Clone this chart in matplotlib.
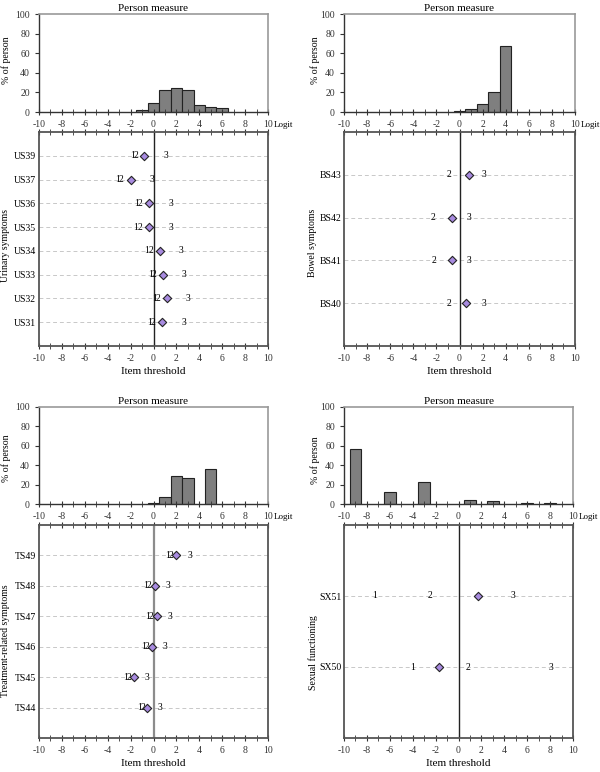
import matplotlib
matplotlib.use('Agg')
import matplotlib.pyplot as plt
from matplotlib.ticker import MultipleLocator

plt.rcParams['font.family'] = ['Liberation Serif', 'DejaVu Serif']
plt.rcParams['axes.unicode_minus'] = False

# person measure histograms (logit bin centre, % of person)
us_bins = [-1, 0, 1, 2, 3, 4, 5, 6]
us_pct = [2, 9, 22, 25, 22, 7, 5, 4]
bs_bins = [0, 1, 2, 3, 4]
bs_pct = [1, 3, 8, 20, 67]
ts_bins = [0, 1, 2, 3, 5]
ts_pct = [1.5, 7, 29, 27, 36]
sx_bins = [-9, -6, -3, 1, 3, 6, 8]
sx_pct = [57, 12, 23, 4, 3, 1, 1]

# items: measure (diamond) and thresholds 1, 2, 3 (None = not shown)
us_items = ['US31', 'US32', 'US33', 'US34', 'US35', 'US36', 'US37', 'US39']
us_meas = [0.78, 1.22, 0.84, 0.55, -0.41, -0.41, -2.0, -0.81]
us_t1 = [-0.35, 0.06, -0.29, -0.58, -1.54, -1.51, -3.17, -1.86]
us_t2 = [-0.03, 0.38, 0.03, -0.26, -1.19, -1.16, -2.82, -1.54]
us_t3 = [2.62, 3.05, 2.70, 2.38, 1.48, 1.48, -0.17, 1.10]

bs_items = ['BS40', 'BS41', 'BS42', 'BS43']
bs_meas = [0.58, -0.64, -0.69, 0.81]
bs_t1 = [None, None, None, None]
bs_t2 = [-0.95, -2.23, -2.28, -0.87]
bs_t3 = [2.08, 0.84, 0.81, 2.14]

ts_items = ['TS44', 'TS45', 'TS46', 'TS47', 'TS48', 'TS49']
ts_meas = [-0.61, -1.72, -0.09, 0.29, 0.09, 2.0]
ts_t1 = [-1.25, -2.47, -0.84, -0.52, -0.67, 1.25]
ts_t2 = [-0.96, -2.15, -0.55, -0.20, -0.35, 1.54]
ts_t3 = [0.55, -0.58, 1.02, 1.42, 1.22, 3.14]

sx_items = ['SX50', 'SX51']
sx_meas = [-1.67, 1.70]
sx_t1 = [-4.02, -7.36]
sx_t2 = [0.83, -2.51]
sx_t3 = [8.11, 4.75]

W, H = 600, 772
fig = plt.figure(figsize=(W / 100, H / 100), dpi=100)


def px_axes(x0, y0, x1, y1):
    return fig.add_axes([x0 / W, 1 - y1 / H, (x1 - x0) / W, (y1 - y0) / H])


def px_label(x, y, s, size=7):
    fig.text(x / W, 1 - y / H, s, rotation=90, ha='center', va='center', fontsize=size)


def style_x(ax, top_ticks=False):
    ax.set_xlim(-10, 10)
    ax.xaxis.set_major_locator(MultipleLocator(2))
    ax.xaxis.set_minor_locator(MultipleLocator(1))
    ax.tick_params(axis='x', which='both', direction='inout', labelsize=7,
                   top=top_ticks, pad=3, colors='#333333')
    ax.tick_params(axis='x', which='major', length=5)
    ax.tick_params(axis='x', which='minor', length=4)


def draw_hist(ax, bins, pct):
    ax.bar(bins, pct, width=1, color='#7f7f7f', edgecolor='#222222', linewidth=0.8)
    style_x(ax)
    ax.set_ylim(0, 100)
    ax.yaxis.set_major_locator(MultipleLocator(20))
    ax.tick_params(axis='y', labelsize=7, length=3, direction='out', colors='#333333')
    for s in ['top', 'right']:
        ax.spines[s].set_color('#999999')
        ax.spines[s].set_linewidth(1.2)
    for s in ['left', 'bottom']:
        ax.spines[s].set_color('#333333')
        ax.spines[s].set_linewidth(1.0)
    ax.set_title('Person measure', fontsize=8, pad=2)
    ax.text(1.025, -0.13, 'Logit', transform=ax.transAxes, fontsize=6.5,
            ha='left', va='center')


def draw_items(ax, items, meas, t1, t2, t3, zero_col='#222222', zero_lw=1.0):
    n = len(items)
    ys = list(range(1, n + 1))
    for y in ys:
        ax.plot([-10, 10], [y, y], color='#c8c8c8', lw=0.7, ls=(0, (4, 3)), zorder=1)
    ax.axvline(0, color=zero_col, lw=zero_lw, zorder=2)
    for y, a, b, c in zip(ys, t1, t2, t3):
        for v, s in [(a, '1'), (b, '2'), (c, '3')]:
            if v is not None:
                ax.text(v, y, s, ha='center', va='center', fontsize=7, zorder=3)
    ax.scatter(meas, ys, marker='D', s=18, color='#a88be0', edgecolor='#222222',
               linewidth=0.8, zorder=4)
    style_x(ax, top_ticks=True)
    ax.set_ylim(0, n + 1)
    ax.set_yticks(ys)
    ax.set_yticklabels(items)
    ax.tick_params(axis='y', labelsize=7, length=0, pad=2)
    for s in ax.spines.values():
        s.set_color('#555555')
        s.set_linewidth(1.3)
    ax.set_xlabel('Item threshold', fontsize=8, labelpad=3)


h1 = px_axes(39, 14, 268, 112)
draw_hist(h1, us_bins, us_pct)
i1 = px_axes(39, 132, 268, 346)
draw_items(i1, us_items, us_meas, us_t1, us_t2, us_t3)
px_label(6, 60, '% of person')
px_label(6, 246, 'Urinary symptoms')

h2 = px_axes(344, 14, 575, 112)
draw_hist(h2, bs_bins, bs_pct)
i2 = px_axes(344, 132, 575, 346)
draw_items(i2, bs_items, bs_meas, bs_t1, bs_t2, bs_t3)
px_label(315, 60, '% of person')
px_label(313, 243, 'Bowel symptoms')

h3 = px_axes(39, 407, 268, 504)
draw_hist(h3, ts_bins, ts_pct)
i3 = px_axes(39, 525, 268, 738)
draw_items(i3, ts_items, ts_meas, ts_t1, ts_t2, ts_t3,
           zero_col='#8c8c8c', zero_lw=1.6)
px_label(6, 458, '% of person')
px_label(6, 641, 'Treatment-related symptoms')

h4 = px_axes(344, 407, 573, 504)
draw_hist(h4, sx_bins, sx_pct)
i4 = px_axes(344, 525, 573, 738)
draw_items(i4, sx_items, sx_meas, sx_t1, sx_t2, sx_t3)
px_label(315, 460, '% of person')
px_label(313, 653, 'Sexual functioning')

fig.savefig('out.png', dpi=100, facecolor='white')
